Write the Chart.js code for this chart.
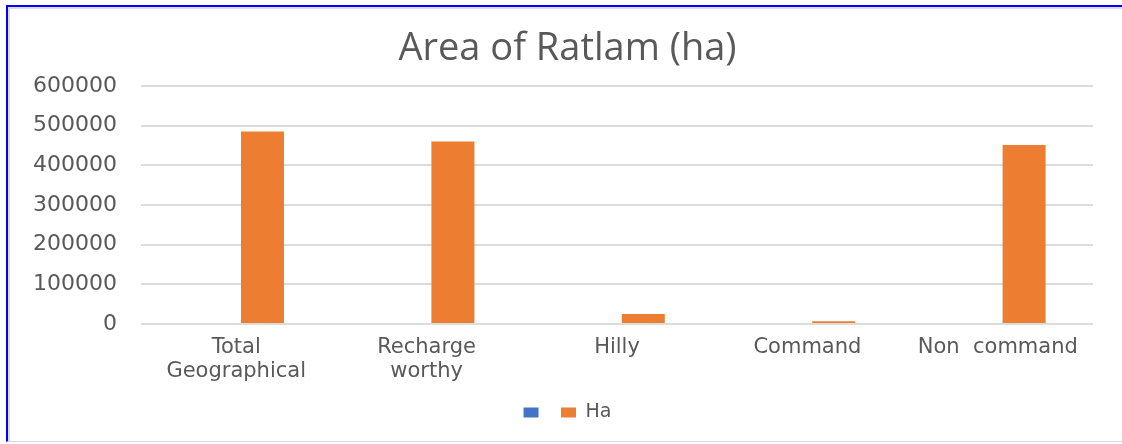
<!DOCTYPE html>
<html>
<head>
<meta charset="utf-8">
<script src="https://cdn.jsdelivr.net/npm/chart.js@4.4.0/dist/chart.umd.min.js"></script>
<style>
  html, body { margin: 0; padding: 0; background: #ffffff; overflow: hidden; }
  #clip { position: absolute; left: 0; top: 0; width: 1122px; height: 444px; overflow: hidden; }
  #frame { position: absolute; left: 6px; top: 5px; width: 1140px; height: 434px;
           border-top: 2px solid #0000ff; border-left: 2px solid #0000ff;
           border-bottom: 1px solid #d9d9d9; z-index: 0; }
  #inner { position: absolute; left: 0; top: 0; right: 0; bottom: 0;
           border-top: 2px solid #dcdcdc; border-left: 2px solid #dcdcdc; }
  #wrap { position: absolute; left: 0; top: 0; width: 1122px; height: 444px; z-index: 1; }
</style>
</head>
<body>
<div id="clip">
<div id="frame"><div id="inner"></div></div>
<div id="wrap"><canvas id="c"></canvas></div>
</div>
<script>
const categories = [["Total", "Geographical"], ["Recharge", "worthy"], "Hilly", "Command", "Non  command"];
const seriesBlank = [0, 0, 0, 0, 0];
const seriesHa = [485000, 460000, 25000, 7000, 451000];
const yTicks = [0, 100000, 200000, 300000, 400000, 500000, 600000];
const titleText = "Area of Ratlam (ha)";

const textColor = "#595959";

new Chart(document.getElementById("c"), {
  type: "bar",
  data: {
    labels: categories,
    datasets: [
      { label: "", data: seriesBlank, backgroundColor: "#4472C4", borderWidth: 0,
        categoryPercentage: 0.5525, barPercentage: 0.8175 },
      { label: "Ha", data: seriesHa, backgroundColor: "#ED7D31", borderWidth: 0,
        categoryPercentage: 0.5525, barPercentage: 0.8175 }
    ]
  },
  options: {
    responsive: true,
    maintainAspectRatio: false,
    animation: false,
    layout: { padding: { left: 13, right: 0, top: 0, bottom: 12 } },
    plugins: {
      title: {
        display: true,
        text: titleText,
        color: textColor,
        font: { family: "'Open Sans'", size: 38, weight: "normal", lineHeight: 1.2 },
        padding: { top: 26, bottom: 14.4 }
      },
      legend: {
        display: true,
        position: "bottom",
        labels: {
          color: textColor,
          font: { family: "'DejaVu Sans'", size: 19 },
          boxWidth: 15,
          boxHeight: 10,
          padding: 13
        }
      },
      tooltip: { enabled: false }
    },
    scales: {
      x: {
        grid: { display: false, drawTicks: false },
        border: { display: false },
        ticks: {
          color: textColor,
          font: { family: "'DejaVu Sans'", size: 21, lineHeight: 1.143 },
          padding: 12,
          maxRotation: 0,
          autoSkip: false
        },
        afterFit: (s) => { s.height = 66; }
      },
      y: {
        min: 0,
        max: 600000,
        grid: { color: "#dcdcdc", lineWidth: 2, drawTicks: false },
        border: { display: false },
        afterBuildTicks: (s) => { s.ticks = yTicks.map(v => ({ value: v })); },
        ticks: {
          color: textColor,
          font: { family: "'DejaVu Sans'", size: 22 },
          padding: 24,
          callback: (v) => String(v)
        },
        afterFit: (s) => { s.width = 128; }
      },
      yRight: {
        type: "linear",
        position: "right",
        display: true,
        grid: { display: false, drawTicks: false },
        border: { display: false },
        ticks: { display: false },
        afterFit: (s) => { s.width = 29; }
      }
    }
  }
});
</script>
</body>
</html>
